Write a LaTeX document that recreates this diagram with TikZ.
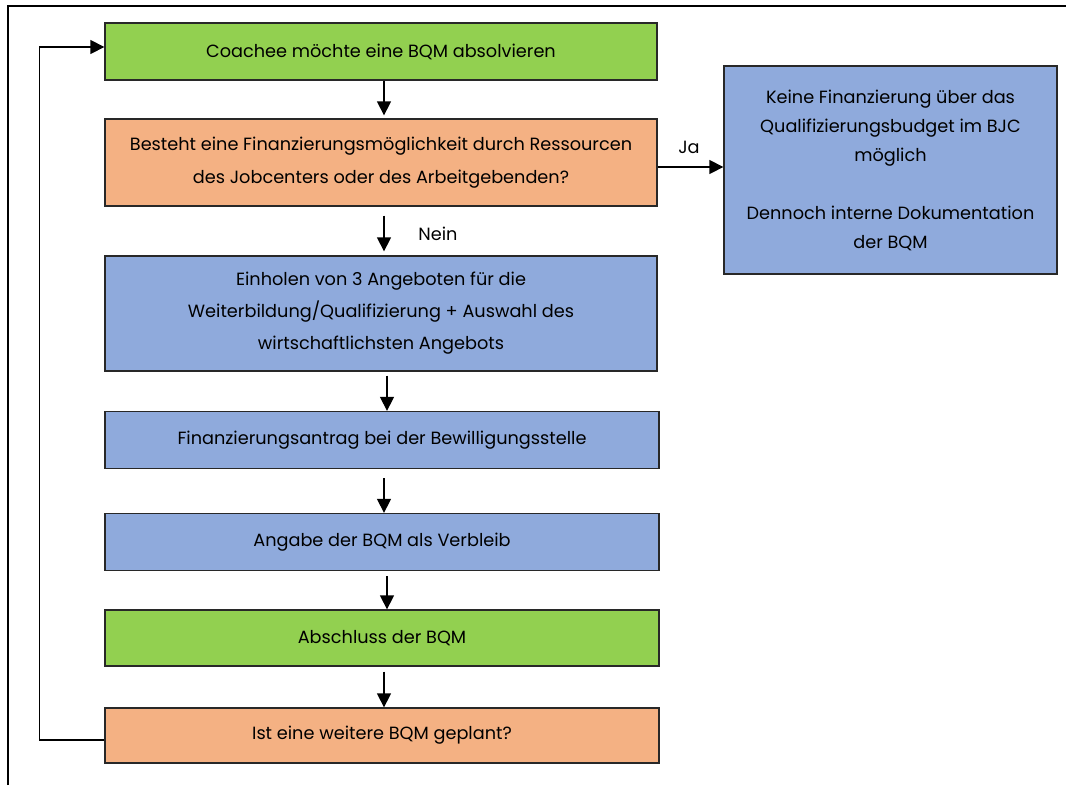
\documentclass[tikz,border=0pt]{standalone}
\usepackage{fontspec}
\setmainfont{Poppins}
\usetikzlibrary{arrows.meta}
\definecolor{boxgreen}{RGB}{146,208,80}
\definecolor{boxorange}{RGB}{244,177,131}
\definecolor{boxblue}{RGB}{143,170,220}
\definecolor{edge}{RGB}{40,40,40}
\tikzset{
  box/.style={draw=edge, line width=1.3pt, inner sep=0pt, align=center, font=\fontsize{17.7}{32}\selectfont},
  arr/.style={line width=1.3pt, -{Triangle[length=14pt,width=14pt]}},
  lbl/.style={font=\fontsize{17.7}{20}\selectfont, inner sep=0pt},
}
\begin{document}
\begin{tikzpicture}[x=1pt,y=-1pt]
\useasboundingbox (0,0) rectangle (1073,785);
\fill[white] (0,0) rectangle (1073,785);
\draw[line width=2.2pt] (8,785) -- (8,6) -- (1066,6);
\node[box, fill=boxgreen, minimum width=552pt, minimum height=57pt] (b1) at (381,51.5) {Coachee möchte eine BQM absolvieren};
\node[box, fill=boxorange, minimum width=552pt, minimum height=87pt, font=\fontsize{17.7}{33}\selectfont] (b2) at (381,162.5) {Besteht eine Finanzierungsmöglichkeit durch Ressourcen\\des Jobcenters oder des Arbeitgebenden?};
\node[box, fill=boxblue, minimum width=552pt, minimum height=115pt] (b3) at (381,313.5) {Einholen von 3 Angeboten für die\\Weiterbildung/Qualifizierung + Auswahl des\\wirtschaftlichsten Angebots};
\node[box, fill=boxblue, minimum width=554pt, minimum height=57pt] (b4) at (382,440) {Finanzierungsantrag bei der Bewilligungsstelle};
\node[box, fill=boxblue, minimum width=554pt, minimum height=57pt] (b5) at (382,542) {Angabe der BQM als Verbleib};
\node[box, fill=boxgreen, minimum width=554pt, minimum height=56pt] (b6) at (382,638) {Abschluss der BQM};
\node[box, fill=boxorange, minimum width=554pt, minimum height=55pt] (b7) at (382,735.5) {Ist eine weitere BQM geplant?};
\node[box, fill=boxblue, minimum width=333pt, minimum height=208pt, font=\fontsize{17.7}{29}\selectfont] (r) at (890.5,170) {Keine Finanzierung über das\\Qualifizierungsbudget im BJC\\möglich\\[29pt]Dennoch interne Dokumentation\\der BQM};
\draw[arr, shorten >=3pt] ([xshift=3pt]b1.south) -- ([xshift=3pt]b2.north);
\draw[arr, shorten <=9pt, shorten >=4pt] ([xshift=3pt]b2.south) -- ([xshift=3pt]b3.north);
\draw[arr, shorten <=4pt] ([xshift=6pt]b3.south) -- ([xshift=5pt]b4.north);
\draw[arr, shorten <=9pt] ([xshift=2pt]b4.south) -- ([xshift=2pt]b5.north);
\draw[arr, shorten <=5pt] ([xshift=5pt]b5.south) -- ([xshift=5pt]b6.north);
\draw[arr, shorten <=5pt] ([xshift=2pt]b6.south) -- ([xshift=2pt]b7.north);
\draw[arr] ([yshift=-4.5pt]b2.east) -- ([yshift=3pt]r.west);
\draw[arr] ([yshift=-4.5pt]b7.west) -- ++(-65,0) |- ([yshift=4.5pt]b1.west);
\node[lbl] (nein) at (438,234) {Nein};
\node[lbl] (ja) at (689,147) {Ja};
\end{tikzpicture}
\end{document}
